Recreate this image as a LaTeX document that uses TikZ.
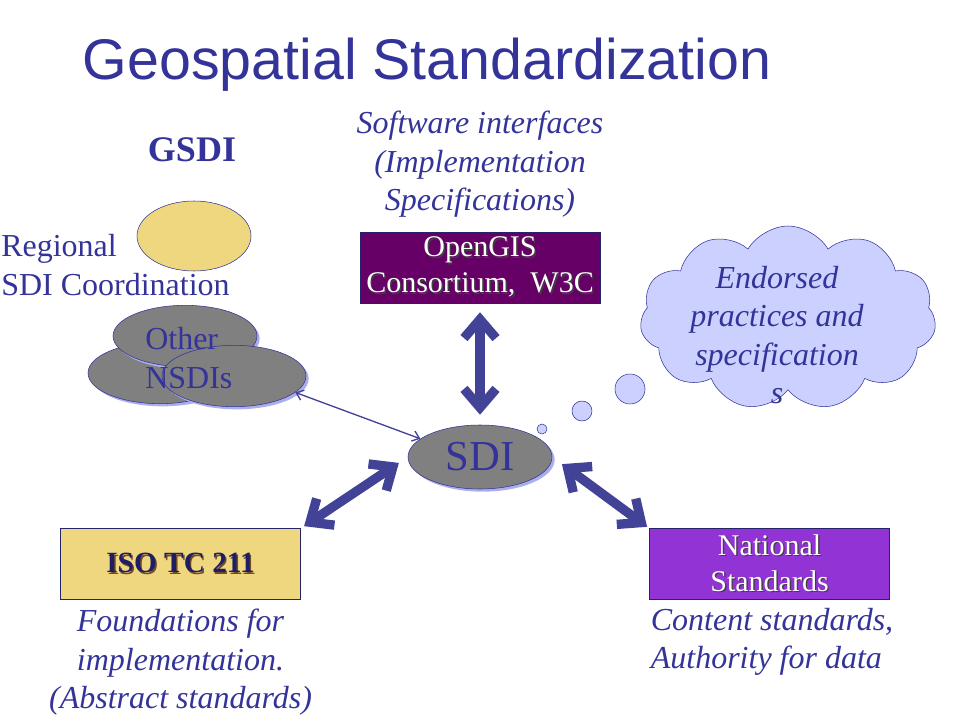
\documentclass[tikz,border=0pt]{standalone}
\usepackage{fontspec}
\setmainfont{Liberation Serif}
\newfontfamily\titlefont{Liberation Sans}
\usetikzlibrary{shapes,shapes.symbols,arrows.meta,positioning,shadows}
\usepackage{xcolor}
\definecolor{slideblue}{RGB}{51,51,153}
\definecolor{arrowblue}{RGB}{66,66,150}
\definecolor{gsdiyellow}{RGB}{239,215,128}
\definecolor{nsdigray}{RGB}{128,128,128}
\definecolor{shadeblue}{RGB}{170,175,235}
\definecolor{ogcpurple}{RGB}{102,0,102}
\definecolor{natviolet}{RGB}{146,51,214}
\definecolor{cloudblue}{RGB}{204,208,255}
\definecolor{isoblue}{RGB}{30,30,100}
\newcommand{\shtext}[2][black!75]{\leavevmode\rlap{\kern1.1pt\raisebox{-1.1pt}{\color{#1}#2}}#2}

\begin{document}
\begin{tikzpicture}[x=0.75pt, y=-0.75pt,
    every node/.style={font=\fontsize{24}{28.8}\selectfont, text=slideblue},
    caption/.style={font=\fontsize{24}{28.8}\selectfont\itshape, align=center, inner sep=2pt},
    org/.style={rectangle, draw=slideblue!70!black, minimum width=180pt, minimum height=53pt, inner sep=0pt, align=center, text=white, font=\fontsize{22.5}{27}\selectfont},
    blob/.style={ellipse, draw=slideblue, fill=nsdigray, drop shadow={shadow xshift=2pt, shadow yshift=-2pt, fill=shadeblue, opacity=1}},
    nsdi/.style={blob, minimum width=108pt, minimum height=46pt},
    bubble/.style={circle, draw=slideblue, fill=cloudblue, inner sep=0pt},
    link/.style={draw=arrowblue, line width=7pt, arrows={Straight Barb[length=14pt, width=24pt]-Straight Barb[length=14pt, width=24pt]}},
    thinlink/.style={draw=arrowblue, line width=1pt, arrows={Straight Barb[length=5pt, width=8pt]-Straight Barb[length=5pt, width=8pt]}}]

    \useasboundingbox (0,0) rectangle (960,720);

    \node[font=\titlefont\fontsize{43}{50}\selectfont] (title) at (427,65) {Geospatial Standardization};

    \node[font=\fontsize{27}{32}\selectfont\bfseries] (gsdi) at (192,150) {GSDI};
    \node[ellipse, draw=slideblue, fill=gsdiyellow, minimum width=85.5pt, minimum height=52.5pt] (regional) at (194,236) {};
    \node[anchor=west, align=left, inner sep=0pt] (regionallabel) at (1,265) {Regional\\SDI Coordination};

    \node[nsdi] (nsdib) at (160,373) {};
    \node[nsdi] (nsdia) at (185,336) {};
    \node[nsdi] (nsdic) at (234,376) {};
    \node[anchor=west, align=left, inner sep=0pt] (nsdilabel) at (145,358) {Other\\NSDIs};

    \node[org, fill=ogcpurple] (ogc) at (480,268) {\shtext{OpenGIS}\\\shtext{Consortium,~~W3C}};
    \node[caption, above=9pt of ogc] (software) {Software interfaces\\(Implementation\\Specifications)};

    \node[blob, minimum width=108pt, minimum height=48pt, font=\fontsize{32}{36}\selectfont] (sdi) at (480,457) {SDI};

    \node[bubble, minimum size=7.5pt] (bubblea) at (542,429) {};
    \node[bubble, minimum size=15pt] (bubbleb) at (582,411) {};
    \node[bubble, minimum size=22.5pt] (bubblec) at (630,389) {};
    \node[cloud, cloud puffs=11, cloud puff arc=120, draw=slideblue, fill=cloudblue, minimum width=222pt, minimum height=138pt, inner sep=0pt] (cloud) at (788,318) {};
    \node[caption] (endorsed) at (777,335) {Endorsed\\practices and\\specification\\s};

    \node[org, fill=gsdiyellow, text=isoblue, font=\fontsize{22}{26}\selectfont\bfseries] (iso) at (180.5,564) {\shtext[brown!60!black]{ISO TC 211}};
    \node[caption, below=5pt of iso] (isocap) {Foundations for\\implementation.\\(Abstract standards)};

    \node[org, fill=natviolet] (national) at (769.5,564) {\shtext{National}\\\shtext{Standards}};
    \node[caption, align=left, anchor=north west, inner sep=1pt, yshift=-5pt] (natcap) at (national.south west) {Content standards,\\Authority for data};

    \draw[link, shorten <=6.5pt, shorten >=7.5pt] (ogc) -- (sdi);
    \draw[link, shorten <=8pt, shorten >=3pt] (sdi.west) -- (iso.north east);
    \draw[link, shorten <=9pt, shorten >=2pt] (sdi.east) -- (national.north west);
    \draw[thinlink] (nsdic.-15) -- (sdi.163);
\end{tikzpicture}
\end{document}
